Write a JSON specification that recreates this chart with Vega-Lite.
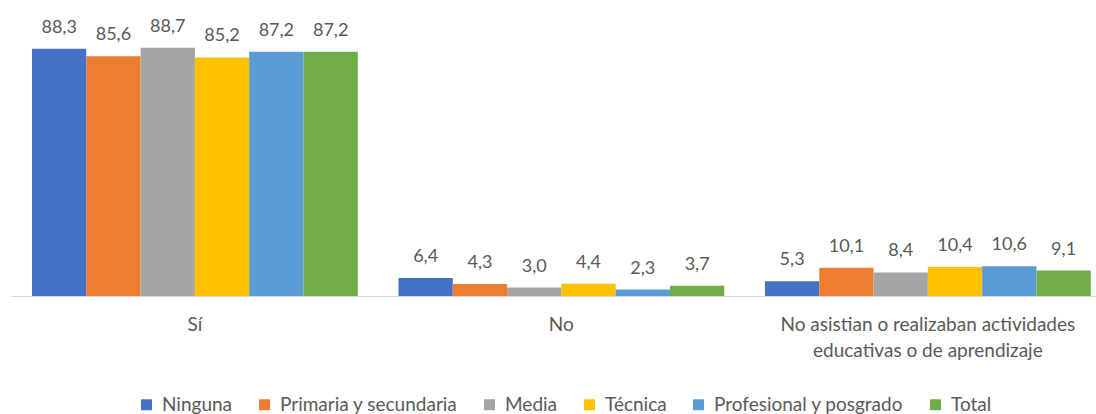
{
  "$schema": "https://vega.github.io/schema/vega-lite/v6.json",
  "width": 1085,
  "height": 280,
  "autosize": {"type": "none"},
  "padding": {"left": 11, "top": 16, "right": 0, "bottom": 118},
  "background": "white",
  "config": {
    "view": {"stroke": null},
    "font": "Lato",
    "locale": {"number": {"decimal": ",", "thousands": ".", "grouping": [3], "currency": ["", " €"]}}
  },
  "data": {
    "values": [
      {"categoria": "Sí", "nivel": "Ninguna", "valor": 88.3},
      {"categoria": "Sí", "nivel": "Primaria y secundaria", "valor": 85.6},
      {"categoria": "Sí", "nivel": "Media", "valor": 88.7},
      {"categoria": "Sí", "nivel": "Técnica", "valor": 85.2},
      {"categoria": "Sí", "nivel": "Profesional y posgrado", "valor": 87.2},
      {"categoria": "Sí", "nivel": "Total", "valor": 87.2},
      {"categoria": "No", "nivel": "Ninguna", "valor": 6.4},
      {"categoria": "No", "nivel": "Primaria y secundaria", "valor": 4.3},
      {"categoria": "No", "nivel": "Media", "valor": 3.0},
      {"categoria": "No", "nivel": "Técnica", "valor": 4.4},
      {"categoria": "No", "nivel": "Profesional y posgrado", "valor": 2.3},
      {"categoria": "No", "nivel": "Total", "valor": 3.7},
      {"categoria": "No asistian o realizaban actividades|educativas o de aprendizaje", "nivel": "Ninguna", "valor": 5.3},
      {"categoria": "No asistian o realizaban actividades|educativas o de aprendizaje", "nivel": "Primaria y secundaria", "valor": 10.1},
      {"categoria": "No asistian o realizaban actividades|educativas o de aprendizaje", "nivel": "Media", "valor": 8.4},
      {"categoria": "No asistian o realizaban actividades|educativas o de aprendizaje", "nivel": "Técnica", "valor": 10.4},
      {"categoria": "No asistian o realizaban actividades|educativas o de aprendizaje", "nivel": "Profesional y posgrado", "valor": 10.6},
      {"categoria": "No asistian o realizaban actividades|educativas o de aprendizaje", "nivel": "Total", "valor": 9.1}
    ]
  },
  "encoding": {
    "x": {
      "field": "categoria",
      "type": "nominal",
      "sort": null,
      "title": null,
      "scale": {"paddingInner": 0.111, "paddingOuter": 0.0358, "align": 0.8},
      "axis": {
        "labelAngle": 0,
        "labelExpr": "split(datum.value, '|')",
        "labelFont": "Lato",
        "labelFontSize": 19,
        "labelColor": "#595959",
        "labelLineHeight": 26,
        "labelPadding": 19,
        "labelLimit": 0,
        "ticks": false,
        "domainColor": "#D9D9D9",
        "domainWidth": 1,
        "grid": false
      }
    },
    "xOffset": {
      "field": "nivel",
      "type": "nominal",
      "sort": ["Ninguna", "Primaria y secundaria", "Media", "Técnica", "Profesional y posgrado", "Total"],
      "scale": {"paddingInner": 0, "paddingOuter": 0}
    },
    "y": {
      "field": "valor",
      "type": "quantitative",
      "scale": {"domain": [0, 100]},
      "axis": null
    }
  },
  "layer": [
    {
      "mark": {"type": "bar"},
      "encoding": {
        "color": {
          "field": "nivel",
          "type": "nominal",
          "sort": ["Ninguna", "Primaria y secundaria", "Media", "Técnica", "Profesional y posgrado", "Total"],
          "scale": {
            "domain": ["Ninguna", "Primaria y secundaria", "Media", "Técnica", "Profesional y posgrado", "Total"],
            "range": ["#4472C4", "#ED7D31", "#A5A5A5", "#FFC000", "#5B9BD5", "#70AD47"]
          },
          "legend": {
            "title": null,
            "orient": "none",
            "direction": "horizontal",
            "legendX": 126,
            "legendY": 379,
            "symbolType": "square",
            "symbolSize": 120,
            "symbolStrokeWidth": 0,
            "labelFont": "Lato",
            "labelFontSize": 19,
            "labelColor": "#595959",
            "labelOffset": 6,
            "columnPadding": 22,
            "labelLimit": 0
          }
        }
      }
    },
    {
      "mark": {"type": "text", "baseline": "alphabetic", "dy": -16, "font": "Lato", "fontSize": 18, "color": "#595959"},
      "encoding": {
        "text": {"field": "valor", "type": "quantitative", "format": ".1f"}
      }
    }
  ]
}
